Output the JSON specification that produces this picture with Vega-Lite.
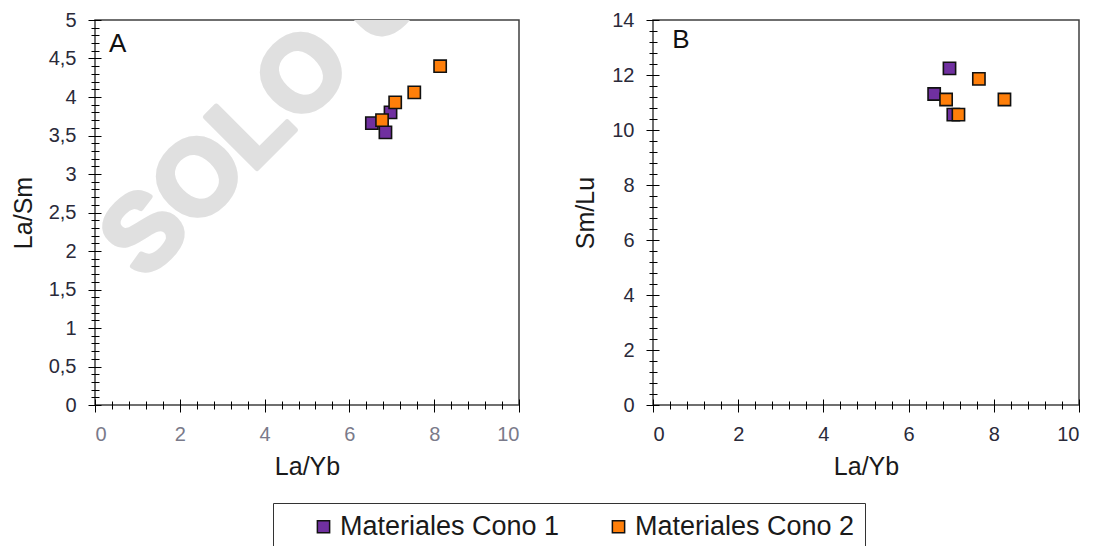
{
  "$schema": "https://vega.github.io/schema/vega-lite/v6.json",
  "padding": {"left": 10, "top": 9, "right": 0, "bottom": 0},
  "background": "white",
  "datasets": {
    "pts": [
      {"panel": "A", "grupo": "Materiales Cono 1", "x": 6.53, "y": 3.66},
      {"panel": "A", "grupo": "Materiales Cono 1", "x": 6.97, "y": 3.80},
      {"panel": "A", "grupo": "Materiales Cono 1", "x": 6.85, "y": 3.54},
      {"panel": "A", "grupo": "Materiales Cono 2", "x": 6.77, "y": 3.70},
      {"panel": "A", "grupo": "Materiales Cono 2", "x": 7.08, "y": 3.93},
      {"panel": "A", "grupo": "Materiales Cono 2", "x": 7.53, "y": 4.06},
      {"panel": "A", "grupo": "Materiales Cono 2", "x": 8.14, "y": 4.40},
      {"panel": "B", "grupo": "Materiales Cono 1", "x": 6.96, "y": 12.24},
      {"panel": "B", "grupo": "Materiales Cono 1", "x": 6.60, "y": 11.31},
      {"panel": "B", "grupo": "Materiales Cono 1", "x": 7.05, "y": 10.56},
      {"panel": "B", "grupo": "Materiales Cono 2", "x": 7.65, "y": 11.86},
      {"panel": "B", "grupo": "Materiales Cono 2", "x": 6.88, "y": 11.11},
      {"panel": "B", "grupo": "Materiales Cono 2", "x": 8.25, "y": 11.11},
      {"panel": "B", "grupo": "Materiales Cono 2", "x": 7.17, "y": 10.56}
    ],
    "letters": [
      {"panel": "A", "label": "A", "x": 0.33, "y": 4.59},
      {"panel": "B", "label": "B", "x": 0.45, "y": 12.97}
    ],
    "mark": [
      {"t": "SOLO USO", "x": 1.15, "y": 1.60}
    ]
  },
  "hconcat": [
    {
      "width": 424,
      "height": 385,
      "layer": [
        {
          "data": {"name": "mark"},
          "mark": {"type": "text", "align": "left", "baseline": "alphabetic", "angle": -45, "font": "Liberation Sans", "fontWeight": "bold", "fontSize": 106, "color": "#e0e0e0", "stroke": "#e0e0e0", "strokeWidth": 5, "strokeJoin": "round", "clip": true},
          "encoding": {
            "x": {"field": "x", "type": "quantitative", "scale": {"domain": [0, 10], "nice": false},
              "axis": {"orient": "bottom", "values": [0,0.4,0.8,1.2,1.6,2,2.4,2.8,3.2,3.6,4,4.4,4.8,5.2,5.6,6,6.4,6.8,7.2,7.6,8,8.4,8.8,9.2,9.6,10], "domain": false, "grid": false, "labels": false, "title": null, "offset": -4, "tickSize": 8, "tickColor": "#000000", "tickWidth": 1}},
            "y": {"field": "y", "type": "quantitative", "scale": {"domain": [0, 5], "nice": false},
              "axis": {"orient": "left", "values": [0,0.1,0.2,0.3,0.4,0.5,0.6,0.7,0.8,0.9,1,1.1,1.2,1.3,1.4,1.5,1.6,1.7,1.8,1.9,2,2.1,2.2,2.3,2.4,2.5,2.6,2.7,2.8,2.9,3,3.1,3.2,3.3,3.4,3.5,3.6,3.7,3.8,3.9,4,4.1,4.2,4.3,4.4,4.5,4.6,4.7,4.8,4.9,5], "domain": false, "grid": false, "labels": false, "title": null, "offset": -4, "tickSize": 8, "tickColor": "#000000", "tickWidth": 1}},
            "text": {"field": "t"}
          }
        },
        {
          "data": {"name": "pts"},
          "transform": [{"filter": "datum.panel === 'A'"}],
          "mark": {"type": "point", "shape": "square", "filled": true, "size": 150, "stroke": "#111111", "strokeWidth": 1.6, "opacity": 1},
          "encoding": {
            "x": {"field": "x", "type": "quantitative", "scale": {"domain": [0, 10], "nice": false},
              "axis": {"orient": "bottom", "values": [0,2,4,6,8,10], "domain": false, "grid": false, "offset": -6, "tickSize": 13, "tickColor": "#000000", "tickWidth": 1, "labelPadding": 12, "labelFontSize": 20, "labelFont": "Liberation Sans", "labelColor": "#7a7a8a", "title": "La/Yb", "titleFont": "Liberation Sans", "titleFontSize": 25, "titleFontWeight": "normal", "titleColor": "#1a1a1a", "titlePadding": 10}},
            "y": {"field": "y", "type": "quantitative", "scale": {"domain": [0, 5], "nice": false},
              "axis": {"orient": "left", "values": [0,0.5,1,1.5,2,2.5,3,3.5,4,4.5,5], "labelExpr": "replace(toString(datum.value), '.', ',')", "domain": false, "grid": false, "offset": -6, "tickSize": 13, "tickColor": "#000000", "tickWidth": 1, "labelPadding": 12, "labelFontSize": 20, "labelFont": "Liberation Sans", "labelColor": "#2a2a3a", "title": "La/Sm", "titleFont": "Liberation Sans", "titleFontSize": 25, "titleFontWeight": "normal", "titleColor": "#1a1a1a", "titlePadding": 12}},
            "color": {"field": "grupo", "type": "nominal", "scale": {"domain": ["Materiales Cono 1", "Materiales Cono 2"], "range": ["#7030A0", "#FF7F0A"]},
              "legend": {"orient": "none", "legendX": 178, "legendY": 483, "direction": "horizontal", "title": null, "symbolType": "square", "symbolSize": 150, "symbolStrokeColor": "#111111", "symbolStrokeWidth": 1.5, "labelFontSize": 27, "labelFont": "Liberation Sans", "labelColor": "#1a1a1a", "labelLimit": 0, "strokeColor": "#333333", "padding": 10, "symbolOffset": 27, "columnPadding": 18, "labelOffset": 3}}
          }
        },
        {
          "data": {"name": "letters"},
          "transform": [{"filter": "datum.panel === 'A'"}],
          "mark": {"type": "text", "align": "left", "baseline": "alphabetic", "font": "Liberation Sans", "fontSize": 26, "color": "#111111"},
          "encoding": {
            "x": {"field": "x", "type": "quantitative", "scale": {"domain": [0, 10], "nice": false}, "axis": null},
            "y": {"field": "y", "type": "quantitative", "scale": {"domain": [0, 5], "nice": false}, "axis": null},
            "text": {"field": "label"}
          }
        }
      ],
      "resolve": {"axis": {"x": "independent", "y": "independent"}}
    },
    {
      "width": 426,
      "height": 385,
      "layer": [
        {
          "data": {"name": "letters"},
          "transform": [{"filter": "datum.panel === 'B'"}],
          "mark": {"type": "text", "align": "left", "baseline": "alphabetic", "font": "Liberation Sans", "fontSize": 26, "color": "#111111"},
          "encoding": {
            "x": {"field": "x", "type": "quantitative", "scale": {"domain": [0, 10], "nice": false},
              "axis": {"orient": "bottom", "values": [0,0.4,0.8,1.2,1.6,2,2.4,2.8,3.2,3.6,4,4.4,4.8,5.2,5.6,6,6.4,6.8,7.2,7.6,8,8.4,8.8,9.2,9.6,10], "domain": false, "grid": false, "labels": false, "title": null, "offset": -4, "tickSize": 8, "tickColor": "#000000", "tickWidth": 1}},
            "y": {"field": "y", "type": "quantitative", "scale": {"domain": [0, 14], "nice": false},
              "axis": {"orient": "left", "values": [0,0.4,0.8,1.2,1.6,2,2.4,2.8,3.2,3.6,4,4.4,4.8,5.2,5.6,6,6.4,6.8,7.2,7.6,8,8.4,8.8,9.2,9.6,10,10.4,10.8,11.2,11.6,12,12.4,12.8,13.2,13.6,14], "domain": false, "grid": false, "labels": false, "title": null, "offset": -4, "tickSize": 8, "tickColor": "#000000", "tickWidth": 1}},
            "text": {"field": "label"}
          }
        },
        {
          "data": {"name": "pts"},
          "transform": [{"filter": "datum.panel === 'B'"}],
          "mark": {"type": "point", "shape": "square", "filled": true, "size": 150, "stroke": "#111111", "strokeWidth": 1.6, "opacity": 1},
          "encoding": {
            "x": {"field": "x", "type": "quantitative", "scale": {"domain": [0, 10], "nice": false},
              "axis": {"orient": "bottom", "values": [0,2,4,6,8,10], "domain": false, "grid": false, "offset": -6, "tickSize": 13, "tickColor": "#000000", "tickWidth": 1, "labelPadding": 12, "labelFontSize": 20, "labelFont": "Liberation Sans", "labelColor": "#2a2a3a", "title": "La/Yb", "titleFont": "Liberation Sans", "titleFontSize": 25, "titleFontWeight": "normal", "titleColor": "#1a1a1a", "titlePadding": 10}},
            "y": {"field": "y", "type": "quantitative", "scale": {"domain": [0, 14], "nice": false},
              "axis": {"orient": "left", "values": [0,2,4,6,8,10,12,14], "domain": false, "grid": false, "offset": -6, "tickSize": 13, "tickColor": "#000000", "tickWidth": 1, "labelPadding": 12, "labelFontSize": 20, "labelFont": "Liberation Sans", "labelColor": "#2a2a3a", "title": "Sm/Lu", "titleFont": "Liberation Sans", "titleFontSize": 25, "titleFontWeight": "normal", "titleColor": "#1a1a1a", "titlePadding": 13}},
            "color": {"field": "grupo", "type": "nominal", "scale": {"domain": ["Materiales Cono 1", "Materiales Cono 2"], "range": ["#7030A0", "#FF7F0A"]}}
          }
        }
      ],
      "resolve": {"axis": {"x": "independent", "y": "independent"}}
    }
  ],
  "spacing": 52,
  "config": {
    "view": {"stroke": "#404040", "strokeWidth": 1.5},
    "font": "Liberation Sans"
  }
}
